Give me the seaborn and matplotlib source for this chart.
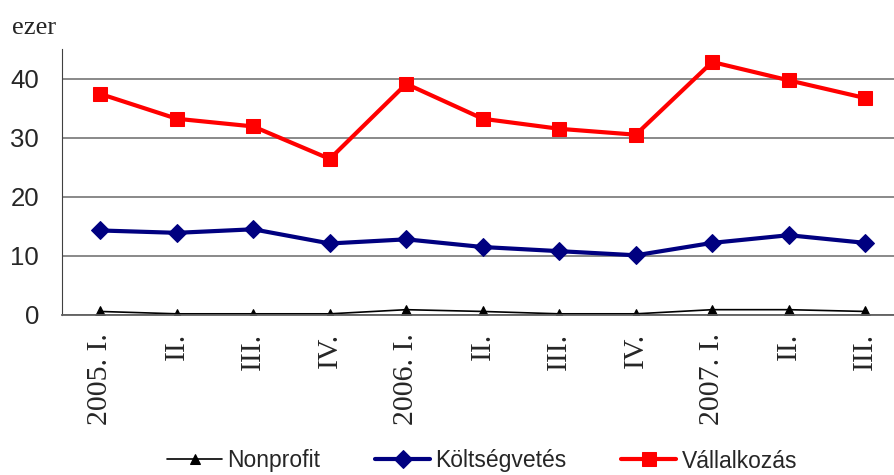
import numpy as np
import pandas as pd
import matplotlib
matplotlib.use("Agg")
import matplotlib.pyplot as plt
import seaborn as sns

# quarters and values (thousand people)
quarters = ["2005. I.", "II.", "III.", "IV.", "2006. I.", "II.", "III.", "IV.",
            "2007. I.", "II.", "III."]
nonprofit = [0.6, 0.2, 0.2, 0.2, 0.9, 0.6, 0.2, 0.2, 0.9, 0.9, 0.6]
koltsegvetes = [14.3, 13.9, 14.5, 12.1, 12.8, 11.5, 10.8, 10.1, 12.2, 13.5, 12.2]
vallalkozas = [37.4, 33.2, 31.9, 26.4, 39.1, 33.2, 31.5, 30.5, 42.8, 39.7, 36.7]

sns.set_style("white")
plt.rcParams['font.family'] = ['Liberation Sans', 'DejaVu Sans']

fig = plt.figure(figsize=(8.95, 4.75), dpi=100)
ax = fig.add_axes([62/895, 160/475, 11*76.5/895, 266/475])

x = np.arange(len(quarters))
sns.lineplot(x=x, y=nonprofit, ax=ax, color="black", lw=1.2, marker="^",
             markersize=7, markeredgecolor="black", label="Nonprofit")
sns.lineplot(x=x, y=koltsegvetes, ax=ax, color="#000080", lw=3, marker="D",
             markersize=9, markeredgecolor="#000080", label="Költségvetés")
sns.lineplot(x=x, y=vallalkozas, ax=ax, color="#FF0000", lw=3, marker="s",
             markersize=10, markeredgecolor="#FF0000", label="Vállalkozás")

ax.set_xlim(-0.5, len(quarters) - 0.5)
ax.set_ylim(0, 45)
ax.set_yticks([0, 10, 20, 30, 40])
ax.yaxis.grid(True, color="#808080", lw=1.3)
ax.set_axisbelow(True)

# ticks at the category borders, labels in the middle
ax.set_xticks(np.arange(-0.5, len(quarters), 1.0))
ax.set_xticklabels([])
ax.set_xticks(x, minor=True)
ax.set_xticklabels(quarters, minor=True, rotation=90, family="Liberation Serif",
                   fontsize=21.5)
ax.tick_params(axis="x", which="major", length=6, color="#404040", width=1, direction="out")
ax.tick_params(axis="x", which="minor", length=0, pad=13)
ax.tick_params(axis="y", length=6.5, color="#404040", width=1, labelsize=18.5, pad=10)

for s in ["top", "right"]:
    ax.spines[s].set_visible(False)
ax.spines["left"].set_color("#404040")
ax.spines["bottom"].set_color("#606060")
ax.spines["bottom"].set_linewidth(1.3)

fig.text(12/895, 1 - 28/475, "ezer", family="Liberation Serif", fontsize=19,
         va="center", ha="left")

ax.legend(loc="center", bbox_to_anchor=(482/895, 1 - 461/475),
          bbox_transform=fig.transFigure, ncol=3, frameon=False,
          prop={"family": ["Liberation Sans Narrow", "Liberation Sans"], "size": 16.5},
          handlelength=2.4, columnspacing=2.4, handletextpad=0.22,
          borderpad=0.1)

fig.savefig("out.png", dpi=100)
